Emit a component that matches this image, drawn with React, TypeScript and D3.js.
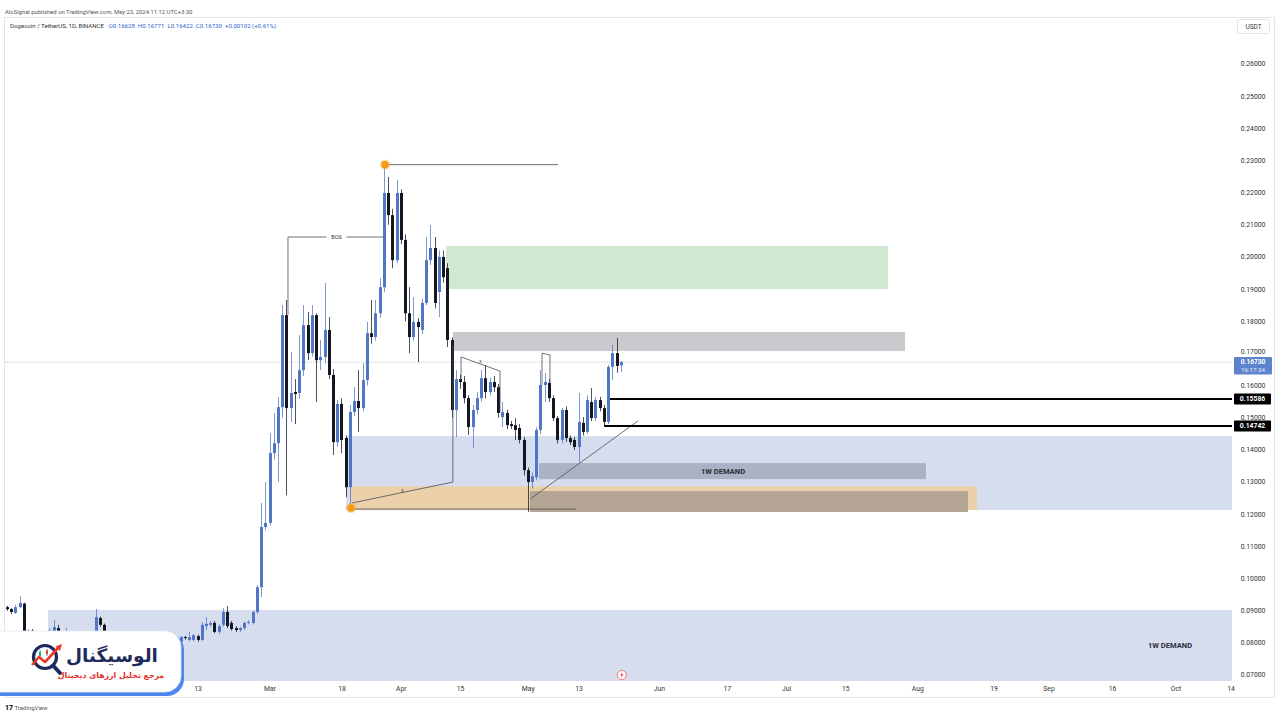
import React from "react";
import * as d3 from "d3";

// ---------- DATA ----------
const CANDLE_START = "2023-12-29";

const candleOpen = [
  0.0924, 0.0911, 0.0905, 0.0893, 0.0911, 0.0922, 0.082, 0.0838, 0.0815, 0.0825,
  0.0805, 0.0832, 0.0831, 0.0846, 0.0831, 0.0815, 0.083, 0.0818, 0.0805, 0.0815,
  0.0822, 0.0812, 0.0831, 0.0877, 0.0856, 0.0824, 0.08, 0.0772, 0.0785, 0.079,
  0.0782, 0.0795, 0.0802, 0.0792, 0.0798, 0.0788, 0.0796, 0.08, 0.0793, 0.0799,
  0.0805, 0.08, 0.0803, 0.0818, 0.0809, 0.0809, 0.0821, 0.0809, 0.0852, 0.0856,
  0.0862, 0.0834, 0.0856, 0.0896, 0.0862, 0.0846, 0.084, 0.0846, 0.0862, 0.0862,
  0.0896, 0.0973, 0.116, 0.1173, 0.139, 0.1421, 0.1533, 0.1819, 0.153, 0.158,
  0.1577, 0.1648, 0.1788, 0.1701, 0.1819, 0.1679, 0.1689, 0.1773, 0.1633, 0.1424,
  0.1543, 0.1437, 0.1284, 0.1518, 0.1552, 0.153, 0.1617, 0.1763, 0.1751, 0.1825,
  0.1906, 0.2199, 0.213, 0.199, 0.2199, 0.2053, 0.1825, 0.1751, 0.1798, 0.1773,
  0.1857, 0.199, 0.2028, 0.1891, 0.2, 0.1965, 0.1742, 0.1524, 0.162, 0.1611,
  0.1561, 0.1471, 0.1524, 0.1561, 0.1623, 0.158, 0.1611, 0.1595, 0.1502, 0.1515,
  0.148, 0.1477, 0.1468, 0.1431, 0.1337, 0.13, 0.1315, 0.1462, 0.1602, 0.1608,
  0.1561, 0.1499, 0.1431, 0.1524, 0.1437, 0.1431, 0.1409, 0.1484, 0.1456, 0.1549,
  0.1499, 0.1555, 0.153, 0.1487, 0.1658, 0.1701, 0.16628,
];
const candleHigh = [
  0.0933, 0.0915, 0.0908, 0.0918, 0.0945, 0.0925, 0.0842, 0.0843, 0.083, 0.083,
  0.0836, 0.0845, 0.0871, 0.0856, 0.0836, 0.0846, 0.0835, 0.0822, 0.082, 0.0826,
  0.0828, 0.0834, 0.0905, 0.0882, 0.086, 0.0828, 0.0805, 0.0792, 0.0798, 0.0795,
  0.08, 0.081, 0.0806, 0.0803, 0.0801, 0.08, 0.0805, 0.0804, 0.0803, 0.081,
  0.081, 0.0813, 0.0822, 0.0822, 0.0834, 0.0828, 0.0826, 0.0865, 0.088, 0.0868,
  0.0868, 0.0858, 0.0908, 0.0914, 0.0868, 0.0852, 0.085, 0.0866, 0.087, 0.09,
  0.098, 0.1235, 0.13, 0.1452, 0.1515, 0.1564, 0.185, 0.1866, 0.1705, 0.162,
  0.1757, 0.185, 0.1829, 0.185, 0.1825, 0.1742, 0.1919, 0.1813, 0.1651, 0.1555,
  0.156, 0.1445, 0.154, 0.1595, 0.1648, 0.167, 0.1798, 0.1866, 0.1866, 0.1934,
  0.2285, 0.2249, 0.215, 0.2239, 0.221, 0.207, 0.1906, 0.1875, 0.181, 0.187,
  0.2062, 0.2099, 0.2062, 0.202, 0.202, 0.198, 0.175, 0.1648, 0.1633, 0.163,
  0.157, 0.154, 0.158, 0.1648, 0.1664, 0.1625, 0.163, 0.1605, 0.1549, 0.1525,
  0.149, 0.1499, 0.148, 0.144, 0.1345, 0.133, 0.147, 0.1648, 0.1639, 0.162,
  0.157, 0.1505, 0.153, 0.1535, 0.1445, 0.144, 0.1577, 0.1502, 0.157, 0.1592,
  0.1564, 0.1565, 0.154, 0.1664, 0.1726, 0.1748, 0.16771,
];
const candleLow = [
  0.0902, 0.0899, 0.089, 0.089, 0.0908, 0.078, 0.0805, 0.08, 0.0795, 0.079,
  0.08, 0.082, 0.0825, 0.082, 0.0805, 0.081, 0.0805, 0.0795, 0.0798, 0.0808,
  0.0805, 0.0808, 0.0825, 0.085, 0.0815, 0.079, 0.0765, 0.0768, 0.0778, 0.0775,
  0.0778, 0.079, 0.0786, 0.0788, 0.0782, 0.0784, 0.079, 0.0789, 0.079, 0.0795,
  0.0796, 0.0797, 0.0798, 0.081, 0.0805, 0.0805, 0.0803, 0.0806, 0.084, 0.085,
  0.083, 0.0828, 0.085, 0.0846, 0.0838, 0.0833, 0.0834, 0.084, 0.0857, 0.0858,
  0.089, 0.0942, 0.115, 0.1165, 0.137, 0.13, 0.15, 0.1259, 0.1487, 0.148,
  0.156, 0.163, 0.168, 0.169, 0.1549, 0.1648, 0.167, 0.162, 0.1384, 0.141,
  0.139, 0.1253, 0.1219, 0.1505, 0.1456, 0.152, 0.16, 0.173, 0.174, 0.181,
  0.189, 0.21, 0.1965, 0.198, 0.204, 0.18, 0.1701, 0.174, 0.1673, 0.176,
  0.185, 0.1975, 0.184, 0.1813, 0.192, 0.172, 0.15, 0.144, 0.159, 0.1545,
  0.1446, 0.1406, 0.151, 0.155, 0.156, 0.157, 0.158, 0.15, 0.1471, 0.1465,
  0.1465, 0.1431, 0.142, 0.132, 0.1207, 0.128, 0.1305, 0.145, 0.1549, 0.1549,
  0.149, 0.142, 0.142, 0.1425, 0.1415, 0.14, 0.1362, 0.1445, 0.145, 0.149,
  0.149, 0.152, 0.1474, 0.148, 0.1617, 0.164, 0.16422,
];
const candleClose = [
  0.0911, 0.0905, 0.0896, 0.0911, 0.0924, 0.082, 0.0838, 0.0815, 0.0825, 0.0805,
  0.0832, 0.0838, 0.0849, 0.0831, 0.0815, 0.083, 0.0818, 0.0805, 0.0815, 0.0822,
  0.0812, 0.0831, 0.088, 0.0856, 0.0824, 0.08, 0.0772, 0.0785, 0.079, 0.0782,
  0.0795, 0.0802, 0.0792, 0.0798, 0.0788, 0.0796, 0.08, 0.0793, 0.0799, 0.0805,
  0.08, 0.0808, 0.0818, 0.0815, 0.0818, 0.0824, 0.0809, 0.0856, 0.0859, 0.0862,
  0.0834, 0.0852, 0.0896, 0.0852, 0.0843, 0.084, 0.0846, 0.0862, 0.0865, 0.0896,
  0.0973, 0.116, 0.1173, 0.139, 0.1421, 0.1533, 0.1819, 0.153, 0.1577, 0.1574,
  0.1648, 0.1788, 0.1701, 0.1819, 0.1679, 0.1689, 0.1773, 0.1633, 0.1424, 0.1543,
  0.1431, 0.1284, 0.1518, 0.1552, 0.153, 0.1617, 0.1763, 0.1751, 0.1825, 0.1906,
  0.2199, 0.213, 0.199, 0.2199, 0.2053, 0.1825, 0.1751, 0.1798, 0.1782, 0.1857,
  0.199, 0.2028, 0.1857, 0.2, 0.1937, 0.1742, 0.1524, 0.162, 0.1611, 0.1561,
  0.1471, 0.1524, 0.1561, 0.1623, 0.158, 0.1611, 0.1595, 0.1515, 0.1518, 0.1477,
  0.1474, 0.1462, 0.1431, 0.1337, 0.13, 0.1318, 0.1462, 0.1602, 0.1611, 0.1561,
  0.1499, 0.1431, 0.1524, 0.1437, 0.1424, 0.1409, 0.1487, 0.1456, 0.1555, 0.1499,
  0.1555, 0.153, 0.1487, 0.1658, 0.1701, 0.1661, 0.1673,
];

const priceTicks = [
  0.07, 0.08, 0.09, 0.1, 0.11, 0.12, 0.13, 0.14, 0.15, 0.16, 0.17, 0.18, 0.19,
  0.2, 0.21, 0.22, 0.23, 0.24, 0.25, 0.26,
];
const timeTicks = [
  "2024-02-13", "2024-03-01", "2024-03-18", "2024-04-01", "2024-04-15",
  "2024-05-01", "2024-05-13", "2024-06-01", "2024-06-17", "2024-07-01",
  "2024-07-15", "2024-08-01", "2024-08-19", "2024-09-01", "2024-09-16",
  "2024-10-01", "2024-10-14",
];

// zones (drawn rectangles)
const zoneNames = ["bigDemand", "weeklyDemandLow", "supplyGreen", "supplyGray", "orderBlockTan", "orderBlockGray", "weeklyDemandBox"];
const zoneStart = ["2024-03-19T00:00Z", "2024-01-08T14:00Z", "2024-04-11T14:00Z", "2024-04-13T05:00Z", "2024-03-19T22:00Z", "2024-05-01T10:00Z", "2024-05-03T13:00Z"];
const zoneEnd = ["2024-10-31T00:00Z", "2024-10-31T00:00Z", "2024-07-24T23:00Z", "2024-07-28T23:30Z", "2024-08-14T23:30Z", "2024-08-12T21:00Z", "2024-08-02T22:30Z"];
const zoneTop = [0.1443, 0.0902, 0.2034, 0.17665, 0.1287, 0.1272, 0.1359];
const zoneBottom = [0.1213, 0.068, 0.19, 0.17074, 0.1213, 0.1207, 0.1309];

const zoneLabels = ["1W DEMAND", "1W DEMAND"];
const zoneLabelDates = ["2024-06-16T00:00Z", "2024-09-29T14:00Z"];
const zoneLabelPrices = [0.1334, 0.0793];

const levelPrices = [0.15586, 0.14742];
const levelStart = ["2024-05-20T07:00Z", "2024-05-18T22:00Z"];

const bosPath = [["2024-03-05T06:00Z", 0.1819], ["2024-03-05T06:00Z", 0.2062], ["2024-03-28T04:00Z", 0.2062]];
const highLine = [["2024-03-28T04:00Z", 0.2287], ["2024-05-08T00:30Z", 0.2287]];
const lowLine = [["2024-03-20T03:00Z", 0.1216], ["2024-05-12T06:30Z", 0.1216]];
const trendLine = [["2024-05-01T10:00Z", 0.1247], ["2024-05-26T22:00Z", 0.149]];
const drawA = [["2024-03-20T09:00Z", 0.1235], ["2024-04-13T05:00Z", 0.13], ["2024-04-13T05:00Z", 0.1726]];
const drawB = [["2024-04-15T03:00Z", 0.1617], ["2024-04-15T03:00Z", 0.1689], ["2024-04-24T08:00Z", 0.1645], ["2024-04-24T08:00Z", 0.1518]];
const drawC = [["2024-05-04T06:00Z", 0.1602], ["2024-05-04T06:00Z", 0.1701], ["2024-05-06T03:00Z", 0.1695], ["2024-05-06T03:00Z", 0.1608]];

const dotDates = ["2024-03-28T04:00Z", "2024-03-20T03:00Z"];
const dotPrices = [0.2287, 0.1219];

const lastPrice = 0.1673;
const eventDate = "2024-05-23T02:00Z";

// ---------- STYLES ----------
const zoneFill: Record<string, string> = {
  bigDemand: "#d5ddef",
  weeklyDemandLow: "#d5ddef",
  supplyGreen: "#cfe8cf",
  supplyGray: "#c9c9ce",
  orderBlockTan: "#ebd0aa",
  orderBlockGray: "#b5a594",
  weeklyDemandBox: "#abb2c5",
};
const UP = "#5077c6";
const DOWN = "#141722";
const AXIS_FONT = "Roboto, 'Liberation Sans', sans-serif";

const dt = (s: string) => new Date(s.length === 10 ? s + "T00:00:00Z" : s);
const fmtTick = (s: string) => {
  const d = dt(s);
  return d.getUTCDate() === 1 ? d3.utcFormat("%b")(d) : String(d.getUTCDate());
};

export default function App() {
  const W = 1280, H = 720;
  const plotL = 5, plotR = 1232, plotT = 18, plotB = 681;
  const x = d3.scaleUtc().domain([dt("2024-03-01"), dt("2024-10-01")]).range([270, 1176]);
  const y = d3.scaleLinear().domain([0.07, 0.26]).range([675, 64]);
  const start = dt(CANDLE_START);
  const candles = candleOpen.map((o, i) => ({
    date: d3.utcDay.offset(start, i),
    o, h: candleHigh[i], l: candleLow[i], c: candleClose[i],
  }));
  const line = d3.line<any>().x((p) => x(dt(p[0]))).y((p) => y(p[1]));
  const lastY = y(lastPrice);

  const drawStroke = "#4a4e59";

  return (
    <div style={{ position: "absolute", left: 0, top: 0, width: W, height: H, background: "#fff" }}>
      <style>{`body{margin:0}`}</style>
      <svg width={W} height={H} style={{ display: "block" }}>
        <defs>
          <clipPath id="plotClip">
            <rect x={plotL} y={plotT} width={plotR - plotL} height={plotB - plotT} />
          </clipPath>
        </defs>
        <rect x={0} y={0} width={W} height={H} fill="#fff" />
        {/* header */}
        <text x={5} y={13.5} fontSize={5.9} fontFamily={AXIS_FONT} fill="#555">
          AloSignal published on TradingView.com, May 23, 2024 11:12 UTC+3:30
        </text>
        <rect x={4.5} y={17.5} width={1270} height={680} fill="none" stroke="#e3e5ea" />
        <text x={10} y={27.5} fontSize={6.1} fontFamily={AXIS_FONT} fill="#333">
          <tspan>Dogecoin / TetherUS, 1D, BINANCE </tspan>
          <tspan fill="#2f5fd0" dx={3}>O0.16628</tspan>
          <tspan fill="#2f5fd0" dx={3}>H0.16771</tspan>
          <tspan fill="#2f5fd0" dx={3}>L0.16422</tspan>
          <tspan fill="#2f5fd0" dx={3}>C0.16730</tspan>
          <tspan fill="#2f5fd0" dx={3}>+0.00102 (+0.61%)</tspan>
        </text>

        <g clipPath="url(#plotClip)">
          {/* zones */}
          {zoneNames.map((n, i) => {
            const x0 = x(dt(zoneStart[i]));
            const x1 = x(dt(zoneEnd[i]));
            const y0 = y(zoneTop[i]);
            const y1 = y(zoneBottom[i]);
            return <rect key={n} x={x0} y={y0} width={x1 - x0} height={y1 - y0} fill={zoneFill[n]} />;
          })}
          {/* zone labels */}
          {zoneLabels.map((t, i) => (
            <text key={i} x={x(dt(zoneLabelDates[i]))} y={y(zoneLabelPrices[i]) + 2.6} textAnchor="middle" fontSize={7.6} fontWeight="bold" fontFamily={AXIS_FONT} fill="#2a2e39">{t}</text>
          ))}

          {/* last price line */}
          <line x1={plotL} x2={plotR} y1={lastY} y2={lastY} stroke="#b9bcc4" strokeWidth={0.8} strokeDasharray="1 1" />

          {/* candles */}
          {candles.map((k, i) => {
            const cx = x(k.date);
            const up = k.c >= k.o;
            const col = up ? UP : DOWN;
            const bx = Math.round(cx - 1.5);
            const top = y(Math.max(k.o, k.c));
            const bh = Math.max(1, Math.abs(y(k.o) - y(k.c)));
            return (
              <g key={i}>
                <line x1={bx + 1.5} x2={bx + 1.5} y1={y(k.h)} y2={y(k.l)} stroke={col} strokeWidth={1} opacity={0.75} />
                <rect x={bx} y={top} width={3} height={bh} fill={col} />
              </g>
            );
          })}

          {/* drawings */}
          <path d={line(bosPath as any) || ""} fill="none" stroke={drawStroke} strokeWidth={0.8} />
          <rect x={(x(dt(bosPath[0][0] as string)) + x(dt(bosPath[2][0] as string))) / 2 - 10} y={y(0.2062) - 4} width={20} height={8} fill="#fff" />
          <text x={(x(dt(bosPath[0][0] as string)) + x(dt(bosPath[2][0] as string))) / 2} y={y(0.2062) + 2} textAnchor="middle" fontSize={5.5} fontFamily={AXIS_FONT} fill="#333">BOS</text>
          <path d={line(highLine as any) || ""} fill="none" stroke={drawStroke} strokeWidth={0.8} />
          <path d={line(lowLine as any) || ""} fill="none" stroke={drawStroke} strokeWidth={0.8} />
          <path d={line(trendLine as any) || ""} fill="none" stroke={drawStroke} strokeWidth={0.8} />
          <path d={line(drawA as any) || ""} fill="none" stroke={drawStroke} strokeWidth={0.8} />
          <path d={line(drawB as any) || ""} fill="none" stroke={drawStroke} strokeWidth={0.8} />
          <path d={line(drawC as any) || ""} fill="none" stroke={drawStroke} strokeWidth={0.8} />
          <text x={(x(dt(drawA[0][0] as string)) + x(dt(drawA[1][0] as string))) / 2} y={(y(drawA[0][1] as number) + y(drawA[1][1] as number)) / 2 - 1} textAnchor="middle" fontSize={5} fontFamily={AXIS_FONT} fill="#555">x</text>
          <text x={(x(dt(drawB[1][0] as string)) + x(dt(drawB[2][0] as string))) / 2} y={(y(drawB[1][1] as number) + y(drawB[2][1] as number)) / 2 - 1} textAnchor="middle" fontSize={5} fontFamily={AXIS_FONT} fill="#555">x</text>

          {/* levels */}
          {levelPrices.map((p, i) => (
            <line key={p} x1={x(dt(levelStart[i]))} x2={plotR} y1={y(p)} y2={y(p)} stroke="#000" strokeWidth={2} />
          ))}

          {/* orange swing dots */}
          {dotDates.map((d, i) => (
            <g key={d}>
              <circle cx={x(dt(d))} cy={y(dotPrices[i])} r={5} fill="#f5a623" opacity={0.45} />
              <circle cx={x(dt(d))} cy={y(dotPrices[i])} r={3.6} fill="#f39c12" />
            </g>
          ))}

          {/* event marker */}
          <g transform={`translate(${x(dt(eventDate))},${plotB - 6})`}>
            <circle r={4.5} fill="#fff" stroke="#f7525f" strokeWidth={0.8} />
            <path d="M0.6,-3 L-2,0.6 L-0.2,0.6 L-0.8,3 L2,-0.8 L0.2,-0.8 Z" fill="#f7525f" />
          </g>
        </g>

        {/* price axis */}
        {priceTicks.map((p) => (
          <text key={p} x={1253} y={y(p) + 2.4 - (p === 0.17 ? 1.5 : 0)} textAnchor="middle" fontSize={6.8} fontFamily={AXIS_FONT} fill="#333">
            {d3.format(".5f")(p)}
          </text>
        ))}
        <rect x={1237.5} y={19.5} width={32} height={14} rx={2} fill="#fff" stroke="#e0e3eb" />
        <text x={1253.5} y={29} textAnchor="middle" fontSize={6.5} fontFamily={AXIS_FONT} fill="#333">USDT</text>

        {/* price label boxes */}
        <rect x={1234} y={lastY - 5} width={38} height={17.5} rx={1} fill="#5d83cc" />
        <text x={1253} y={lastY + 2.3} textAnchor="middle" fontSize={6.6} fontFamily={AXIS_FONT} fill="#fff" fontWeight="bold">0.16730</text>
        <text x={1253} y={lastY + 9.8} textAnchor="middle" fontSize={6.2} fontFamily={AXIS_FONT} fill="#e8eefc">16:17:34</text>
        {levelPrices.map((p) => (
          <g key={p}>
            <rect x={1234} y={y(p) - 5.5} width={37} height={11} rx={1} fill="#000" />
            <text x={1252.5} y={y(p) + 2.4} textAnchor="middle" fontSize={6.8} fontWeight="bold" fontFamily={AXIS_FONT} fill="#fff">
              {d3.format(".5f")(p)}
            </text>
          </g>
        ))}

        {/* time axis */}
        {timeTicks.map((t) => (
          <text key={t} x={x(dt(t))} y={691} textAnchor="middle" fontSize={6.8} fontFamily={AXIS_FONT} fill="#333">
            {fmtTick(t)}
          </text>
        ))}

        {/* logo card */}
        <rect x={-20} y={633} width={204} height={63} rx={17} fill="#4f86ee" />
        <rect x={-20} y={631} width={201} height={61} rx={16} fill="#fff" stroke="#e4e8f1" strokeWidth={0.8} />
        <g>
          <circle cx={45} cy={657} r={11.5} fill="none" stroke="#1d2b5c" strokeWidth={3.2} />
          <line x1={53} y1={665.5} x2={60} y2={673} stroke="#1d2b5c" strokeWidth={4} strokeLinecap="round" />
          <line x1={40} y1={650} x2={40} y2={658} stroke="#2aa876" strokeWidth={1} />
          <rect x={39} y={652} width={2} height={4} fill="#2aa876" />
          <line x1={47} y1={649} x2={47} y2={656} stroke="#2aa876" strokeWidth={1} />
          <rect x={46} y={650.5} width={2} height={3.5} fill="#e8392b" />
          <polyline points="32,665 39,657 45,662 58,648" fill="none" stroke="#e8392b" strokeWidth={2.6} strokeLinejoin="round" />
          <path d="M62,644 L55.5,646.5 L60,651 Z" fill="#e8392b" />
          <text x={112} y={662} textAnchor="middle" fontSize={18.5} fontWeight="bold" fontFamily="'DejaVu Sans', sans-serif" fill="#1d2b5c">الوسیگنال</text>
          <text x={111} y={677.5} textAnchor="middle" fontSize={7.8} fontWeight="bold" fontFamily="'DejaVu Sans', sans-serif" fill="#e3312a">مرجع تحلیل ارزهای دیجیتال</text>
        </g>

        {/* footer */}
        <text x={5} y={710} fontSize={7} fontWeight={900} fontFamily={AXIS_FONT} fill="#131722">17</text>
        <text x={14.5} y={710} fontSize={6} fontFamily={AXIS_FONT} fill="#555">TradingView</text>
      </svg>
    </div>
  );
}
